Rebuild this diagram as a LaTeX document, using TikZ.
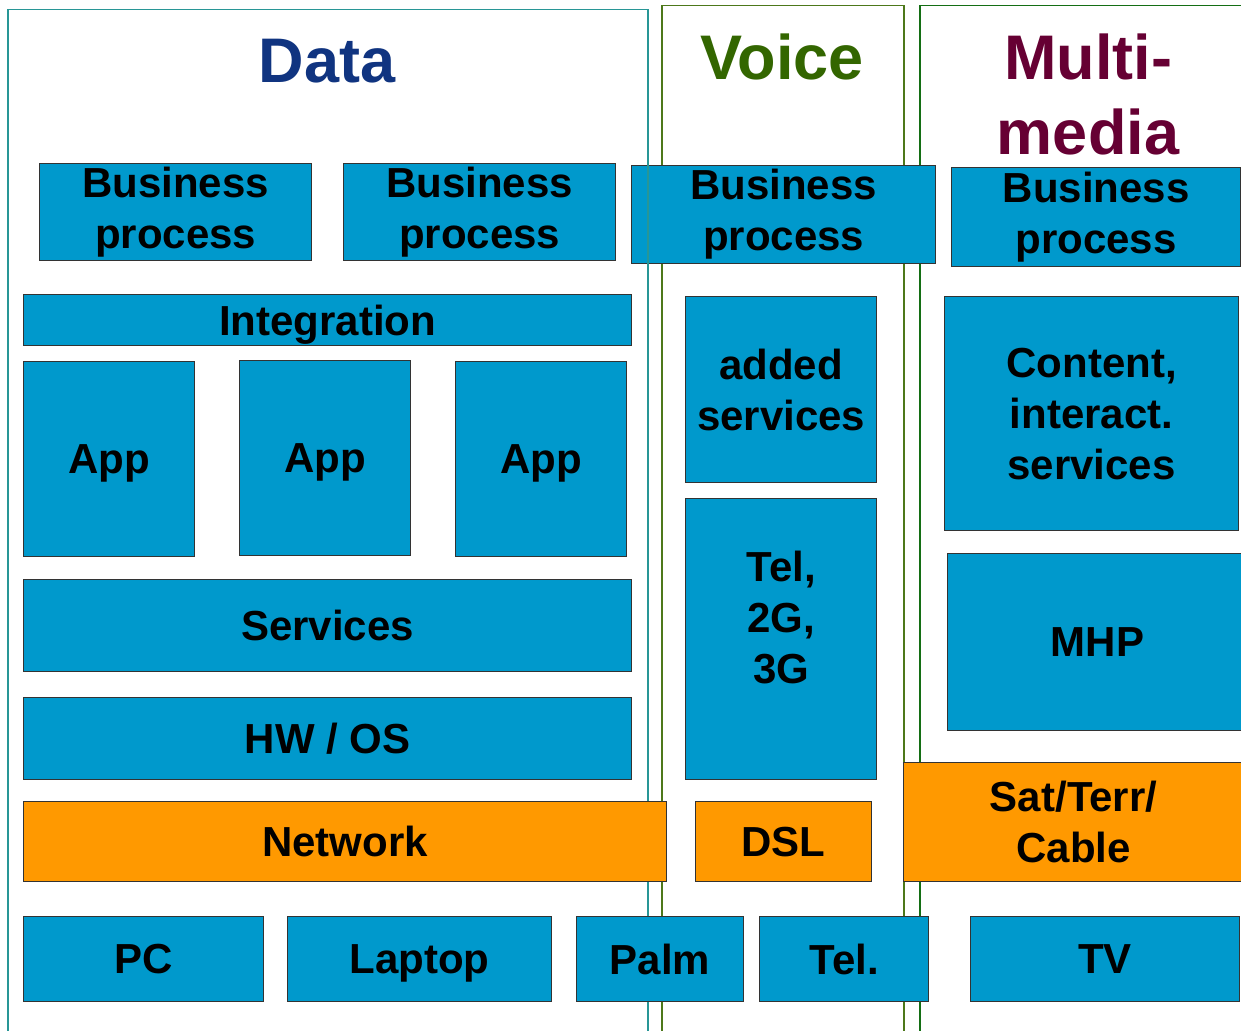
\documentclass[tikz,border=0pt]{standalone}
\usepackage{fontspec}
\setmainfont{Liberation Sans}
\usetikzlibrary{positioning}
\definecolor{boxblue}{RGB}{0,153,204}
\definecolor{netorange}{RGB}{255,153,0}
\definecolor{datablue}{RGB}{16,52,128}
\definecolor{voicegreen}{RGB}{51,102,0}
\definecolor{mediared}{RGB}{102,0,51}
\definecolor{dataframe}{RGB}{40,150,150}
\definecolor{voiceframe}{RGB}{77,120,26}
\definecolor{mediaframe}{RGB}{20,110,20}
\newcommand{\bodyfont}{\bfseries\fontsize{42}{51}\selectfont}
\newcommand{\headfont}{\bfseries\fontsize{63}{75}\selectfont}
\tikzstyle{block}=[draw=black!80,fill=boxblue,line width=1.2pt,inner sep=0pt,anchor=north west,align=center,font=\bodyfont]
\tikzstyle{lineblock}=[block,text depth=0pt]
\tikzstyle{netblock}=[block,fill=netorange]
\tikzstyle{column}=[line width=1.5pt,inner sep=0pt,anchor=north west]
\tikzstyle{heading}=[anchor=base,font=\headfont,align=center]

\begin{document}
\begin{tikzpicture}[x=1pt,y=-1pt]
    \useasboundingbox[fill=white] (0,0) rectangle (1241,1030);
    % Column frames (voice and multimedia lie under the boxes)
    \node[column, draw=voiceframe, minimum width=242pt, minimum height=1040pt] (voicecol) at (661,5) {};
    \node[column, draw=mediaframe, minimum width=340pt, minimum height=1040pt] (mediacol) at (919,5) {};
    \node[block, minimum width=304pt, minimum height=98pt] (bp3) at (631,165) {Business\\process};
    \node[column, draw=dataframe, minimum width=640pt, minimum height=1040pt] (datacol) at (7,9) {};
    % Column headings
    \node[heading, text=datablue] (data) at (327,83) {Data};
    \node[heading, text=voicegreen] (voice) at (782,80) {Voice};
    \node[heading, text=mediared, anchor=north] (media) at (1088,30) {Multi-\\media};
    % Blue boxes with two or three lines
    \foreach \x/\y/\w/\h/\name/\txt in {39/163/272/97/bp1/{Business\\process},
        343/163/272/97/bp2/{Business\\process}, 951/167/289/99/bp4/{Business\\process},
        685/296/191/186/added/{added\\services},
        944/296/294/234/content/{Content,\\interact.\\services}}
        \node[block, minimum width=\w pt, minimum height=\h pt] (\name) at (\x,\y) {\txt};
    % Blue boxes with one line
    \foreach \x/\y/\w/\h/\name/\txt in {23/294/608/51/integ/{Integration},
        23/361/171/195/app1/{App}, 239/360/171/195/app2/{App}, 455/361/171/195/app3/{App},
        23/579/608/92/serv/{Services}, 23/697/608/82/hwos/{HW / OS},
        947/553/300/177/mhp/{MHP},
        23/916/240/85/pc/{PC}, 287/916/264/85/laptop/{Laptop},
        576/916/167/85/palm/{Palm}, 759/916/169/85/tel/{Tel.},
        970/916/269/85/tv/{TV}}
        \node[lineblock, minimum width=\w pt, minimum height=\h pt] (\name) at (\x,\y) {\txt};
    % Voice network stack, text sits high in the box
    \node[block, minimum width=191pt, minimum height=281pt] (mobile) at (685,498) {};
    \node[font=\bodyfont, align=center] (mobiletext) at ([yshift=22pt]mobile.center) {Tel,\\2G,\\3G};
    % Orange access networks
    \foreach \x/\y/\w/\h/\name/\txt in {23/801/643/80/net/{Network},
        695/801/176/80/dsl/{DSL}, 903/762/340/119/sat/{Sat/Terr/\\Cable}}
        \node[netblock, minimum width=\w pt, minimum height=\h pt] (\name) at (\x,\y) {\txt};
\end{tikzpicture}
\end{document}
